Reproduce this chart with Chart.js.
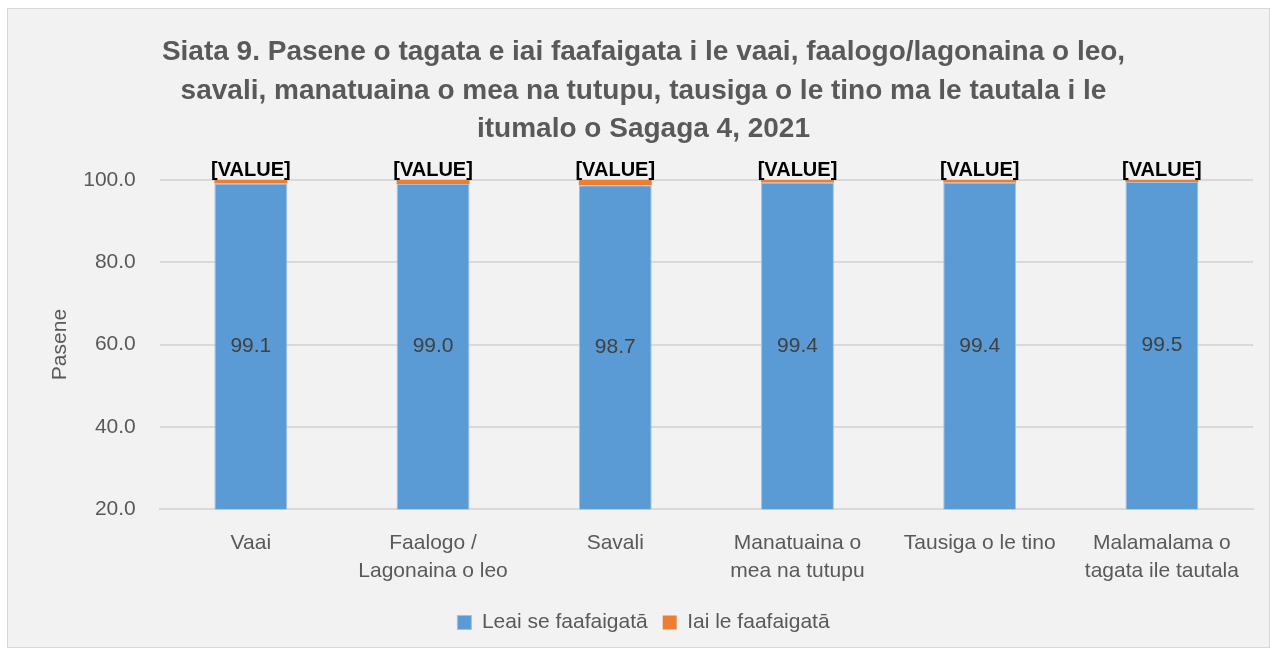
<!DOCTYPE html>
<html><head><meta charset="utf-8">
<script src="https://cdn.jsdelivr.net/npm/chart.js@4.4.1/dist/chart.umd.min.js"></script>
<style>
html,body{margin:0;padding:0;background:#fff;}
#wrap{position:absolute;left:7px;top:8px;width:1261px;height:638px;border:1px solid #d9d9d9;background:#f2f2f2;}
canvas{display:block;}
</style></head><body>
<div id="wrap"><canvas id="c" width="1261" height="638"></canvas></div>
<script>
const categories = [["Vaai"], ["Faalogo /", "Lagonaina o leo"], ["Savali"], ["Manatuaina o", "mea na tutupu"], ["Tausiga o le tino"], ["Malamalama o", "tagata ile tautala"]];
const seriesNames = ["Leai se faafaigatā", "Iai le faafaigatā"];
const noDifficulty = [99.1, 99.0, 98.7, 99.4, 99.4, 99.5];
const someDifficulty = [0.9, 1.0, 1.3, 0.6, 0.6, 0.5];
const topLabels = ["[VALUE]", "[VALUE]", "[VALUE]", "[VALUE]", "[VALUE]", "[VALUE]"];
const titleLines = ["Siata 9. Pasene o tagata e iai faafaigata i le vaai, faalogo/lagonaina o leo,", "savali, manatuaina o mea na tutupu, tausiga o le tino ma le tautala i le", "itumalo o Sagaga 4, 2021"];
const yTicks = [20, 40, 60, 80, 100];

const FONT = "'Liberation Sans', Arial, sans-serif";
const GRAY = '#595959';

const labelPlugin = {
  id: 'labels',
  afterDatasetsDraw(chart) {
    const ctx = chart.ctx;
    const y = chart.scales.y;
    ctx.save();
    ctx.textAlign = 'center';
    const m0 = chart.getDatasetMeta(0);
    ctx.font = '21px ' + FONT;
    ctx.fillStyle = '#404040';
    ctx.textBaseline = 'middle';
    m0.data.forEach((bar, i) => {
      const v = noDifficulty[i];
      const yc = (y.getPixelForValue(y.min) + y.getPixelForValue(v)) / 2;
      ctx.fillText(v.toFixed(1), bar.x, yc);
    });
    const m1 = chart.getDatasetMeta(1);
    ctx.font = 'bold 20px ' + FONT;
    ctx.fillStyle = '#000';
    ctx.textBaseline = 'bottom';
    m1.data.forEach((bar, i) => {
      ctx.fillText(topLabels[i], bar.x, bar.y + 1);
    });
    ctx.restore();
  }
};

new Chart(document.getElementById('c'), {
  type: 'bar',
  data: {
    labels: categories,
    datasets: [
      {label: seriesNames[0], data: noDifficulty, backgroundColor: '#5b9bd5', borderColor: '#9cc3e6', borderWidth: 1, categoryPercentage: 0.8, barPercentage: 0.5},
      {label: seriesNames[1], data: someDifficulty, backgroundColor: '#ed7d31', borderWidth: 0, categoryPercentage: 0.8, barPercentage: 0.5}
    ]
  },
  options: {
    responsive: false,
    animation: false,
    devicePixelRatio: 1,
    layout: {padding: {left: 26, right: 16, top: 10, bottom: 4}},
    plugins: {
      title: {display: true, text: titleLines, color: GRAY, font: {family: FONT, size: 28, weight: 'bold', lineHeight: 1.38}, padding: {top: 14, bottom: 31}},
      legend: {position: 'bottom', labels: {color: GRAY, font: {family: FONT, size: 21}, boxWidth: 14, boxHeight: 14, padding: 15}},
      tooltip: {enabled: false}
    },
    scales: {
      x: {
        stacked: true,
        grid: {display: false},
        border: {display: true, color: '#d9d9d9', width: 2},
        ticks: {color: GRAY, font: {family: FONT, size: 21, lineHeight: 1.33}, padding: 12, maxRotation: 0}
      },
      y: {
        stacked: true,
        min: 20, max: 100,
        afterBuildTicks(s) { s.ticks = yTicks.map(v => ({value: v})); },
        grid: {color: '#d9d9d9', lineWidth: 2, drawTicks: false},
        border: {display: false},
        ticks: {color: GRAY, font: {family: FONT, size: 21}, padding: 24, callback: v => Number(v).toFixed(1)},
        title: {display: true, text: 'Pasene', color: GRAY, font: {family: FONT, size: 21}, padding: {top: 14, bottom: -14}}
      }
    }
  },
  plugins: [labelPlugin]
});
</script>
</body></html>
